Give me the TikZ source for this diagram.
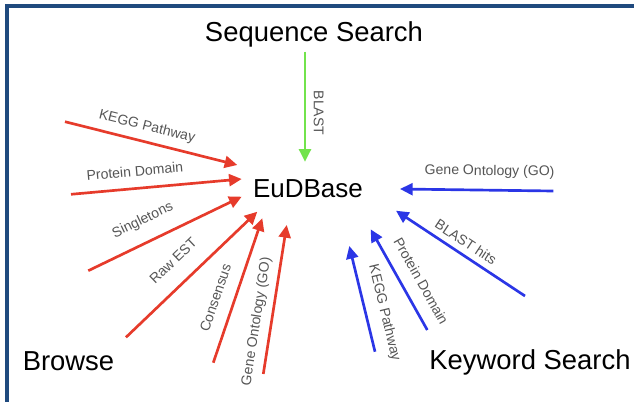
\documentclass[tikz,border=0pt]{standalone}
\usepackage{fontspec}
\setmainfont{Liberation Sans}
\usepackage{tikz}
\usetikzlibrary{arrows.meta}
\definecolor{marco}{HTML}{1F4A7E}
\definecolor{rojo}{HTML}{E63B2B}
\definecolor{azul}{HTML}{2B36E6}
\definecolor{verde}{HTML}{72E34C}
\definecolor{etiqueta}{HTML}{555555}

\begin{document}
\begin{tikzpicture}[x=0.025cm,y=-0.025cm,
  titulo/.style={font=\fontsize{19.5}{22}\selectfont,anchor=base,inner sep=0pt},
  rotulo/.style={font=\fontsize{10}{12}\selectfont,text=etiqueta,sloped,inner sep=0pt},
  flecha/.style={-{Triangle[length=9pt,width=8.5pt]},line width=1.9pt},
  navegar/.style={flecha,draw=rojo},
  buscar/.style={flecha,draw=azul},
  secuencia/.style={flecha,draw=verde}
]
\useasboundingbox (0,0) rectangle (634,402);
\fill[marco] (5,4) rectangle (634,8);
\fill[marco] (5,4) rectangle (9,402);

\node[titulo] (seqsearch) at (314,41.7) {Sequence Search};
\node[titulo,font=\fontsize{18.5}{22}\selectfont] (eudb) at (308,197.3) {EuDBase};
\node[titulo] (browse) at (68.5,370) {Browse};
\node[titulo] (keyword) at (530,369.3) {Keyword Search};

% extremos de las flechas
\coordinate (s0) at (305,51.7);   \coordinate (e0) at (305,161.7);
\coordinate (b1) at (65,121.7);   \coordinate (e1) at (237.3,165);
\coordinate (b2) at (71,194.3);   \coordinate (e2) at (241.7,179);
\coordinate (b3) at (88.3,270.7); \coordinate (e3) at (241.7,196.7);
\coordinate (b4) at (126,337.3);  \coordinate (e4) at (257.3,211.7);
\coordinate (b5) at (213.3,362.7);\coordinate (e5) at (262.3,218.3);
\coordinate (b6) at (263.3,374);  \coordinate (e6) at (286.7,225);
\coordinate (k1) at (553.3,191);  \coordinate (e7) at (400,189);
\coordinate (k2) at (525,296);    \coordinate (e8) at (396,210.7);
\coordinate (k3) at (427.3,330);  \coordinate (e9) at (370.7,229.3);
\coordinate (k4) at (375,351.7);  \coordinate (e10) at (349.3,246);

\draw[secuencia] (s0) -- node[rotulo,pos=0.557,above=5.3pt] {BLAST} (e0);

\draw[navegar] (b1) -- node[rotulo,pos=0.455,above=5pt] {KEGG Pathway} (e1);
\draw[navegar] (b2) -- node[rotulo,pos=0.383,above=7.7pt] {Protein Domain} (e2);
\draw[navegar] (b3) -- node[rotulo,pos=0.416,above=9.7pt] {Singletons} (e3);
\draw[navegar] (b4) -- node[rotulo,pos=0.479,above=11.7pt] {Raw EST} (e4);
\draw[navegar] (b5) -- node[rotulo,pos=0.407,above=8.9pt] {Consensus} (e5);
\draw[navegar] (b6) -- node[rotulo,pos=0.338,above=4.8pt] {Gene Ontology (GO)} (e6);

\draw[buscar] (k1) -- node[rotulo,pos=0.417,above=7.6pt] {Gene Ontology (GO)} (e7);
\draw[buscar] (k2) -- node[rotulo,pos=0.511,above=4.2pt] {BLAST hits} (e8);
\draw[buscar] (k3) -- node[rotulo,pos=0.396,above=8.7pt] {Protein Domain} (e9);
\draw[buscar] (k4) -- node[rotulo,pos=0.326,above=7.3pt] {KEGG Pathway} (e10);
\end{tikzpicture}
\end{document}
